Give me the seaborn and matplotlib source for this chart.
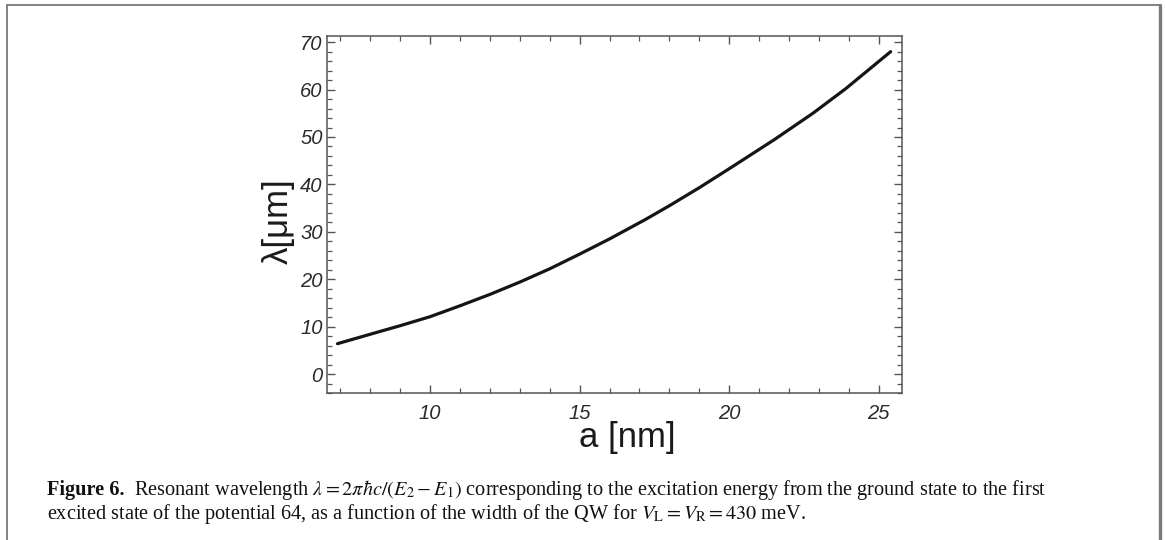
import matplotlib
matplotlib.use("Agg")
import matplotlib.pyplot as plt
from matplotlib.lines import Line2D
from matplotlib.ticker import MultipleLocator
import seaborn as sns
import pandas as pd

# Data
width_nm = [6.9, 8.0, 9.0, 10.0, 11.0, 12.0, 13.0, 14.0, 15.0, 16.0, 17.2, 18.0,
            19.0, 20.0, 21.5, 22.8, 23.9, 25.4]
wavelength_um = [6.4, 8.4, 10.2, 12.1, 14.4, 16.8, 19.4, 22.2, 25.3, 28.5, 32.6, 35.5,
                 39.3, 43.3, 49.4, 55.0, 60.2, 68.0]
x_major_ticks = [10, 15, 20, 25]
y_major_ticks = [0, 10, 20, 30, 40, 50, 60, 70]

x_label = "a [nm]"
y_label = "λ[μm]"
caption_bold = "Figure 6."
caption_line1 = (r"Resonant wavelength $\lambda = 2\pi\hbar c/(E_2 - E_1)$ corresponding to the "
                 "excitation energy from the ground state to the first")
caption_line2 = (r"excited state of the potential 64, as a function of the width of the QW for "
                 r"$V_\mathrm{L} = V_\mathrm{R} = 430$ meV.")

df = pd.DataFrame({"a": width_nm, "lam": wavelength_um})

sns.set_theme(style="ticks")
plt.rcParams["font.family"] = ["Liberation Sans", "DejaVu Sans"]
plt.rcParams["mathtext.fontset"] = "stix"

W, H = 1165, 540
fig = plt.figure(figsize=(W / 100, H / 100), dpi=100)
ax = fig.add_axes([327 / W, 1 - 393 / H, (902 - 327) / W, (393 - 36) / H])

sns.lineplot(data=df, x="a", y="lam", ax=ax, color="#151515", linewidth=2.3)

ax.set_xlim(6.55, 25.78)
ax.set_ylim(-4.0, 71.3)
ax.set_xticks(x_major_ticks)
ax.set_yticks(y_major_ticks)
ax.xaxis.set_minor_locator(MultipleLocator(1))
ax.yaxis.set_minor_locator(MultipleLocator(2))

spine_col = "#555555"
for s in ax.spines.values():
    s.set_visible(True)
    s.set_color(spine_col)
    s.set_linewidth(1.1)

ax.tick_params(which="both", direction="in", top=True, right=True, colors=spine_col,
               labelcolor="#2a2a2a")
ax.tick_params(which="major", length=6, width=1.0)
ax.tick_params(which="minor", length=3.5, width=0.9)
ax.tick_params(axis="x", which="major", pad=8)
ax.tick_params(axis="y", which="major", pad=3)
for lab in ax.get_xticklabels() + ax.get_yticklabels():
    lab.set_fontsize(14.5)
    lab.set_fontstyle("italic")

ax.set_xlabel("")
ax.set_ylabel("")
fig.text(627 / W, 1 - 437 / H, x_label, ha="center", va="center", fontsize=25, color="#1a1a1a")
fig.text(278 / W, 1 - 221 / H, y_label, ha="center", va="center", fontsize=25,
         rotation=90, color="#1a1a1a")

# page frame
frame_col = "#7a7a7a"
fig.add_artist(Line2D([7 / W, 7 / W], [0, 1 - 5 / H], transform=fig.transFigure,
                      color=frame_col, lw=1.3))
fig.add_artist(Line2D([7 / W, 1160 / W], [1 - 5 / H, 1 - 5 / H], transform=fig.transFigure,
                      color=frame_col, lw=1.3))
fig.add_artist(Line2D([1160 / W, 1160 / W], [0, 1 - 5 / H], transform=fig.transFigure,
                      color=frame_col, lw=2.4))

# caption
serif = ["Liberation Serif", "DejaVu Serif"]
cap_size = 14.6
t_bold = fig.text(47 / W, 1 - 490 / H, caption_bold, ha="left", va="center",
                  fontsize=cap_size, fontweight="bold", family=serif, color="#111111")
fig.canvas.draw()
bb = t_bold.get_window_extent(renderer=fig.canvas.get_renderer())
fig.text((bb.x1 + 10) / W, 1 - 490 / H, caption_line1, ha="left", va="center",
         fontsize=cap_size, family=serif, color="#111111")
fig.text(47 / W, 1 - 514 / H, caption_line2, ha="left", va="center",
         fontsize=cap_size, family=serif, color="#111111")

fig.savefig("out.png", dpi=100)
